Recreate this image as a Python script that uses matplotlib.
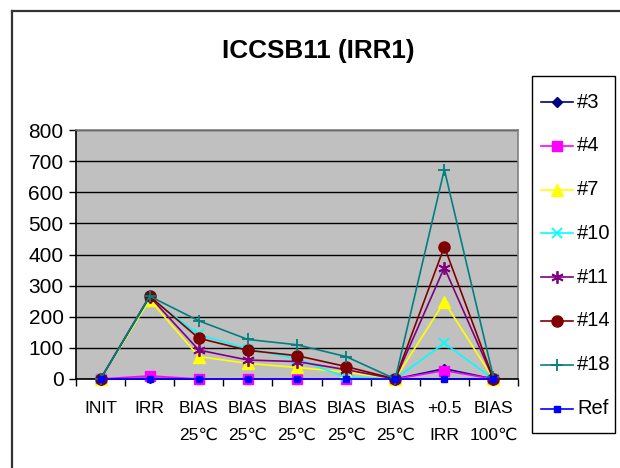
import matplotlib
matplotlib.use("Agg")
import matplotlib.pyplot as plt
from matplotlib import font_manager
from matplotlib.lines import Line2D
from matplotlib.patches import Rectangle

names = {f.name for f in font_manager.fontManager.ttflist}
NARROW = "Liberation Sans Narrow" if "Liberation Sans Narrow" in names else "Liberation Sans"
FAM = [NARROW, "DejaVu Sans"]
plt.rcParams["font.family"] = FAM

categories = ["INIT", "IRR", "BIAS\n25℃", "BIAS\n25℃", "BIAS\n25℃", "BIAS\n25℃",
              "BIAS\n25℃", "+0.5\nIRR", "BIAS\n100℃"]
s3 = [0, 2, 0, 0, 0, 0, 0, 33, 0]
s4 = [0, 10, 0, 0, 0, 0, 0, 27, 0]
s7 = [0, 255, 72, 50, 37, 22, 0, 248, 0]
s10 = [0, 262, 143, 97, 65, 5, 0, 115, 0]
s11 = [0, 265, 93, 61, 56, 30, 0, 358, 0]
s14 = [0, 266, 131, 92, 75, 40, 0, 425, 0]
s18 = [0, 266, 187, 127, 110, 72, 0, 673, 5]
ref = [0, 0, 0, 0, 0, 0, 0, 0, 0]
series_names = ["#3", "#4", "#7", "#10", "#11", "#14", "#18", "Ref"]
yticks = [0, 100, 200, 300, 400, 500, 600, 700, 800]
title = "ICCSB11 (IRR1)"

styles = [
    dict(color="#000080", marker="D", ms=5),
    dict(color="#FF00FF", marker="s", ms=7),
    dict(color="#FFFF00", marker="^", ms=8),
    dict(color="#00FFFF", marker="x", ms=7, mew=1.3),
    dict(color="#800080", marker=(6, 2, 0), ms=9, mew=1.3),
    dict(color="#800000", marker="o", ms=8),
    dict(color="#008080", marker="+", ms=9, mew=1.3),
    dict(color="#0000FF", marker="s", ms=4),
]
data = [s3, s4, s7, s10, s11, s14, s18, ref]

W, H = 620, 468
fig = plt.figure(figsize=(W / 100, H / 100), dpi=100)
fig.patch.set_facecolor("white")

def fx(px):
    return px / W

def fy(py):
    return 1 - py / H

L, R, T, B = 76, 518, 130, 379
ax = fig.add_axes([fx(L), fy(B), (R - L) / W, (B - T) / H])
ax.set_facecolor("#C0C0C0")

x = list(range(len(categories)))
for d, st, nm in zip(data, styles, series_names):
    ax.plot(x, d, color=st["color"], marker=st["marker"], ms=st["ms"],
            mew=st.get("mew", 1.0), mfc=st["color"], mec=st["color"],
            lw=1.2, label=nm, clip_on=False, zorder=3)

ax.set_xlim(-0.5, len(categories) - 0.5)
ax.set_ylim(0, 800)
ax.set_yticks(yticks)
ax.set_yticklabels([str(v) for v in yticks], fontsize=15)
ax.yaxis.grid(True, color="black", lw=1.0)
ax.set_axisbelow(True)
ax.tick_params(axis="y", length=5, width=1, pad=4, direction="out")

ax.set_xticks([i - 0.5 for i in range(len(categories) + 1)])
ax.set_xticklabels([])
ax.tick_params(axis="x", which="major", length=5, width=1, direction="out")
ax.set_xticks(x, minor=True)
ax.set_xticklabels(categories, minor=True, fontsize=12.5, linespacing=1.95)
ax.tick_params(axis="x", which="minor", length=0, pad=16)

for s in ["top", "right"]:
    ax.spines[s].set_color("#808080")
    ax.spines[s].set_linewidth(1.2)
for s in ["left", "bottom"]:
    ax.spines[s].set_color("black")
    ax.spines[s].set_linewidth(1.2)

fig.text(fx(318), fy(51), title, ha="center", va="center",
         fontsize=18.8, fontweight="bold")

# legend box (drawn like the spreadsheet legend)
lx0, ly0, lx1, ly1 = 532, 76, 615, 433
fig.add_artist(Rectangle((fx(lx0), fy(ly1)), (lx1 - lx0) / W, (ly1 - ly0) / H,
                         transform=fig.transFigure, facecolor="white",
                         edgecolor="black", lw=1.0))
row0, step = 102, 43.8
for i, (st, nm) in enumerate(zip(styles, series_names)):
    yy = fy(row0 + i * step)
    fig.add_artist(Line2D([fx(541), fx(573)], [yy, yy], color=st["color"], lw=1.2))
    fig.add_artist(Line2D([fx(557)], [yy], color=st["color"], marker=st["marker"],
                          ms=st["ms"], mew=st.get("mew", 1.0), mfc=st["color"],
                          mec=st["color"], lw=0))
    fig.text(fx(577), yy, nm, ha="left", va="center", fontsize=14.5)

# chart outer border (left and top only visible)
fig.add_artist(Line2D([fx(12), fx(12)], [0, fy(11)], color="#333333", lw=1.6))
fig.add_artist(Line2D([fx(12), 1], [fy(11), fy(11)], color="#333333", lw=1.6))

fig.savefig("out.png", dpi=100, facecolor="white")
